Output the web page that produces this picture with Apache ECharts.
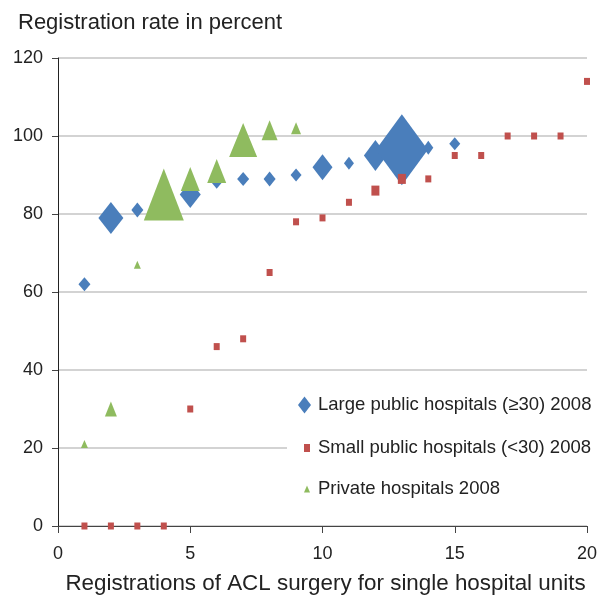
<!DOCTYPE html>
<html>
<head>
<meta charset="utf-8">
<script src="https://cdn.jsdelivr.net/npm/echarts@6/dist/echarts.min.js"></script>
<style>
  html, body { margin: 0; padding: 0; background: #fff; }
  #main { width: 607px; height: 600px; }
</style>
</head>
<body>
<div id="main"></div>
<script>
// registrations per unit (x) and registration rate in percent (y)
var largeX = [1, 2, 3, 5, 6, 7, 8, 9, 10, 11, 12, 13, 14, 15];
var largeY = [62, 79, 81, 85, 88, 89, 89, 90, 92, 93, 95, 96.5, 97, 98];

var smallX = [1, 2, 3, 4, 5, 6, 7, 8, 9, 10, 11, 12, 13, 14, 15, 16, 17, 18, 19, 20];
var smallY = [0, 0, 0, 0, 30, 46, 48, 65, 78, 79, 83, 86, 89, 89, 95, 95, 100, 100, 100, 114];

var privX = [1, 2, 3, 4, 5, 6, 7, 8, 9];
var privY = [21, 30, 67, 85, 89, 91, 99, 101.5, 102];

// marker sizes [w, h] per point (hospital volume)
var largeSize = [[12, 14], [25, 32], [12, 15], [21, 27], [10, 12], [12, 14], [12, 15], [11, 13],
                 [20, 26], [10, 13], [23, 31], [52, 71], [10, 14], [11, 13]];
var smallSize = [[6, 7], [6, 7], [6, 7], [6, 7], [6, 7], [6, 7], [6, 7], [6, 7], [6, 7], [6, 7],
                 [6, 7], [8, 10], [8, 10], [6, 7], [6, 7], [6, 7], [6, 7], [6, 7], [6, 7], [6, 7]];
var privSize = [[7, 8], [12, 15], [7, 8], [40, 52], [19, 24], [19, 24], [28, 34], [16, 20], [10, 12]];

var xTicks = { min: 0, max: 20, interval: 5 };
var yTicks = { min: 0, max: 120, interval: 20 };

var names = ['Large public hospitals (\u226530) 2008', 'Small public hospitals (<30) 2008', 'Private hospitals 2008'];

function pairs(xs, ys) {
  return xs.map(function (x, i) { return [x, ys[i]]; });
}

var FONT = "'Liberation Sans', Arial, sans-serif";
var chart = echarts.init(document.getElementById('main'));

var legendText = { fontSize: 18.5, color: '#222', lineHeight: 20 };

var option = {
  animation: false,
  textStyle: { fontFamily: FONT },
  title: {
    text: 'Registration rate in percent',
    left: 13,
    top: 7,
    textStyle: { fontSize: 22, fontWeight: 'normal', color: '#222', fontFamily: FONT }
  },
  grid: { left: 58, right: 20, top: 58, bottom: 73 },
  legend: [
    {
      data: [{ name: names[0], icon: 'diamond' }],
      left: 298, top: 395, padding: 0,
      itemWidth: 13, itemHeight: 17,
      textStyle: Object.assign({ padding: [0, 0, 0, 2] }, legendText)
    },
    {
      data: [{ name: names[1], icon: 'rect' }],
      left: 287, top: 430, padding: [8, 20, 8, 17],
      backgroundColor: '#fff',
      itemWidth: 6, itemHeight: 8,
      textStyle: Object.assign({ padding: [0, 0, 0, 3] }, legendText)
    },
    {
      data: [{ name: names[2], icon: 'triangle' }],
      left: 304, top: 479, padding: 0,
      itemWidth: 6, itemHeight: 7,
      textStyle: Object.assign({ padding: [0, 0, 0, 3] }, legendText)
    }
  ],
  xAxis: {
    type: 'value',
    min: xTicks.min, max: xTicks.max, interval: xTicks.interval,
    name: 'Registrations of ACL surgery for single hospital units',
    nameLocation: 'middle',
    nameGap: 47,
    nameTextStyle: { fontSize: 22.4, color: '#222', padding: [0, 0, 0, 6] },
    axisLine: { lineStyle: { color: '#444', width: 1 } },
    axisTick: { show: true, length: 7, lineStyle: { color: '#444' } },
    axisLabel: { fontSize: 18, color: '#222', margin: 19 },
    splitLine: { show: false }
  },
  yAxis: {
    type: 'value',
    min: yTicks.min, max: yTicks.max, interval: yTicks.interval,
    axisLine: { show: true, lineStyle: { color: '#222', width: 1 } },
    axisTick: { show: true, length: 6, lineStyle: { color: '#444' } },
    axisLabel: { fontSize: 18, color: '#222', margin: 15 },
    splitLine: { show: true, lineStyle: { color: '#c4c4c4', width: 1.5 } }
  },
  series: [
    {
      name: names[0],
      type: 'scatter',
      symbol: 'diamond',
      data: pairs(largeX, largeY),
      symbolSize: function (v, p) { return largeSize[p.dataIndex]; },
      itemStyle: { color: '#4a7ebb', opacity: 1 },
      z: 2
    },
    {
      name: names[1],
      type: 'scatter',
      symbol: 'rect',
      data: pairs(smallX, smallY),
      symbolSize: function (v, p) { return smallSize[p.dataIndex]; },
      itemStyle: { color: '#c0504d', opacity: 1 },
      clip: false,
      z: 3
    },
    {
      name: names[2],
      type: 'scatter',
      symbol: 'triangle',
      data: pairs(privX, privY),
      symbolSize: function (v, p) { return privSize[p.dataIndex]; },
      itemStyle: { color: '#8fbb5f', opacity: 1 },
      z: 4
    }
  ]
};

chart.setOption(option);
</script>
</body>
</html>
